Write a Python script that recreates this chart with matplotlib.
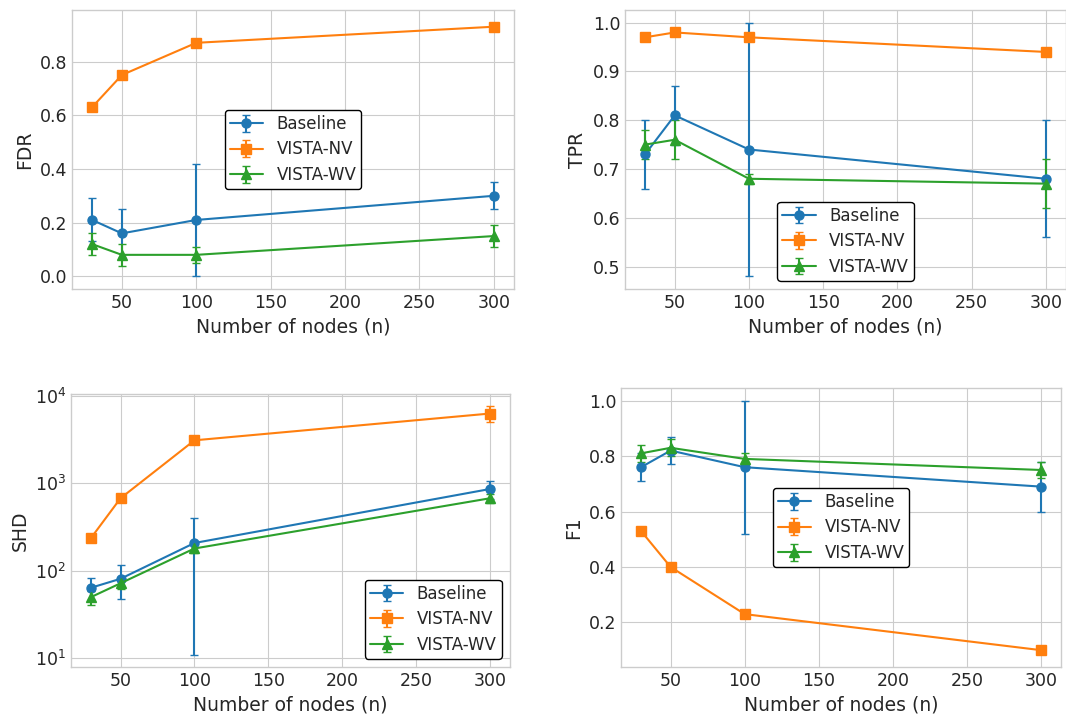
import matplotlib
matplotlib.use("Agg")
import matplotlib.pyplot as plt
import numpy as np

plt.style.use("seaborn-v0_8-whitegrid")
plt.rcParams["font.family"] = ["DejaVu Sans"]
plt.rcParams["text.color"] = "#262626"
plt.rcParams["axes.labelcolor"] = "#262626"
plt.rcParams["xtick.color"] = "#262626"
plt.rcParams["ytick.color"] = "#262626"

nodes = [30, 50, 100, 300]
methods = ["Baseline", "VISTA-NV", "VISTA-WV"]
colors = ["#1f77b4", "#ff7f0e", "#2ca02c"]
markers = ["o", "s", "^"]

fdr_mean = {"Baseline": [0.21, 0.16, 0.21, 0.30],
            "VISTA-NV": [0.63, 0.75, 0.87, 0.93],
            "VISTA-WV": [0.12, 0.08, 0.08, 0.15]}
fdr_err = {"Baseline": [0.08, 0.09, 0.21, 0.05],
           "VISTA-NV": [0.005, 0.015, 0.005, 0.015],
           "VISTA-WV": [0.04, 0.04, 0.03, 0.04]}

tpr_mean = {"Baseline": [0.73, 0.81, 0.74, 0.68],
            "VISTA-NV": [0.97, 0.98, 0.97, 0.94],
            "VISTA-WV": [0.75, 0.76, 0.68, 0.67]}
tpr_err = {"Baseline": [0.07, 0.06, 0.26, 0.12],
           "VISTA-NV": [0.006, 0.006, 0.006, 0.007],
           "VISTA-WV": [0.03, 0.04, 0.01, 0.05]}

shd_mean = {"Baseline": [64, 81, 208, 863],
            "VISTA-NV": [237, 676, 3110, 6300],
            "VISTA-WV": [50, 72, 180, 676]}
shd_err = {"Baseline": [18, 34, 197, 200],
           "VISTA-NV": [10, 30, 150, 1300],
           "VISTA-WV": [9, 10, 20, 80]}

f1_mean = {"Baseline": [0.76, 0.82, 0.76, 0.69],
           "VISTA-NV": [0.53, 0.40, 0.23, 0.10],
           "VISTA-WV": [0.81, 0.83, 0.79, 0.75]}
f1_err = {"Baseline": [0.05, 0.05, 0.24, 0.09],
          "VISTA-NV": [0.005, 0.015, 0.005, 0.015],
          "VISTA-WV": [0.03, 0.03, 0.02, 0.03]}

panels = [("FDR", fdr_mean, fdr_err, "center", False),
          ("TPR", tpr_mean, tpr_err, "lower center", False),
          ("SHD", shd_mean, shd_err, "lower right", True),
          ("F1", f1_mean, f1_err, "center", False)]

W, H = 1066, 720
# axes boxes in pixels: (x0, y0_top, x1, y1_bottom)
boxes = [(72, 10, 514, 289), (625, 10, 1066, 289),
         (71, 394, 510, 667), (621, 388, 1061, 667)]

fig = plt.figure(figsize=(W / 100, H / 100), dpi=100)
for box, (name, mean, err, loc, logy) in zip(boxes, panels):
    x0, y0, x1, y1 = box
    ax = fig.add_axes([x0 / W, 1 - y1 / H, (x1 - x0) / W, (y1 - y0) / H])
    for m, c, mk in zip(methods, colors, markers):
        ax.errorbar(nodes, mean[m], yerr=err[m], color=c, marker=mk,
                    markersize=6.5, capsize=3, linewidth=1.5, label=m)
    if logy:
        ax.set_yscale("log")
    ax.set_xlabel("Number of nodes (n)", fontsize=13.5)
    ax.set_ylabel(name, fontsize=13.5)
    ax.tick_params(labelsize=12.5)
    leg = ax.legend(loc=loc, fontsize=12, frameon=True, fancybox=True,
                    framealpha=1.0, borderpad=0.3, labelspacing=0.45)
    leg.get_frame().set_edgecolor("black")
    leg.get_frame().set_linewidth(1.0)

fig.savefig("out.png", dpi=100)
